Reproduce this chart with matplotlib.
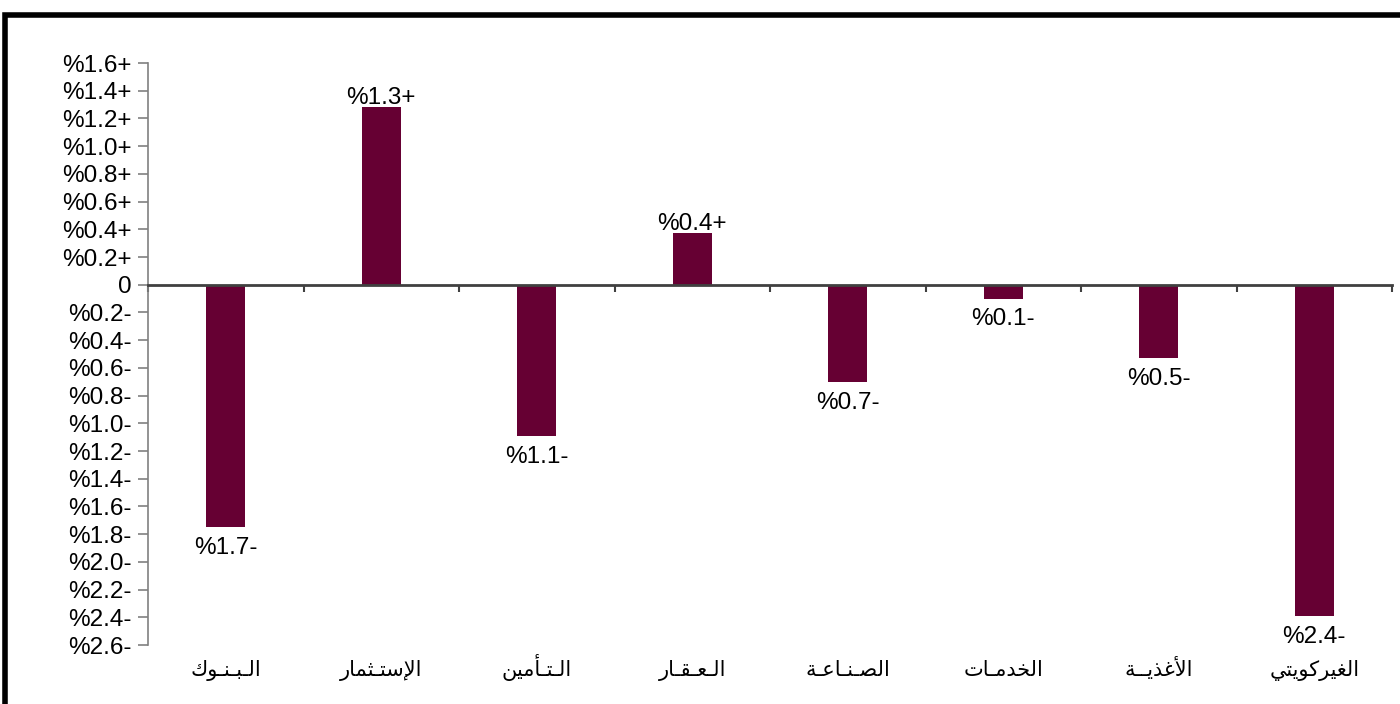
import numpy as np
import matplotlib.pyplot as plt
import matplotlib.transforms as mtransforms
from matplotlib.patches import Rectangle

# --- data -------------------------------------------------------------------
sectors = ["الـبـنـوك", "الإستـثمار", "الـتـأمين", "الـعـقـار",
           "الصـنـاعـة", "الخدمـات", "الأغذيــة", "الغيركويتي"]
changes = [-1.75, 1.28, -1.09, 0.37, -0.70, -0.10, -0.53, -2.39]
bar_labels = ["%1.7-", "%1.3+", "%1.1-", "%0.4+", "%0.7-", "%0.1-", "%0.5-", "%2.4-"]
yticks = np.round(np.arange(-2.6, 1.61, 0.2), 1)

BAR = "#660033"
AXC = "#808080"
FONT = ["Liberation Sans", "DejaVu Sans"]

# --- minimal arabic shaping (matplotlib has no bidi / joining) ---------------
FORMS = {
    "ا": "ﺍﺎ", "أ": "ﺃﺄ", "إ": "ﺇﺈ", "آ": "ﺁﺂ", "ة": "ﺓﺔ", "د": "ﺩﺪ",
    "ذ": "ﺫﺬ", "ر": "ﺭﺮ", "ز": "ﺯﺰ", "و": "ﻭﻮ",
    "ب": "ﺏﺐﺑﺒ", "ت": "ﺕﺖﺗﺘ", "ث": "ﺙﺚﺛﺜ", "خ": "ﺥﺦﺧﺨ", "س": "ﺱﺲﺳﺴ",
    "ص": "ﺹﺺﺻﺼ", "ع": "ﻉﻊﻋﻌ", "غ": "ﻍﻎﻏﻐ", "ق": "ﻕﻖﻗﻘ", "ك": "ﻙﻚﻛﻜ",
    "ل": "ﻝﻞﻟﻠ", "م": "ﻡﻢﻣﻤ", "ن": "ﻥﻦﻧﻨ", "ي": "ﻱﻲﻳﻴ",
    "ـ": "ــــ",
}
LAMALEF = {"ا": "ﻻﻼ", "أ": "ﻷﻸ", "إ": "ﻹﻺ", "آ": "ﻵﻶ"}


def shape(word):
    toks = []
    i = 0
    while i < len(word):
        if word[i] == "ل" and i + 1 < len(word) and word[i + 1] in LAMALEF:
            toks.append(LAMALEF[word[i + 1]])
            i += 2
        else:
            toks.append(FORMS.get(word[i], word[i] * 4))
            i += 1
    out = []
    for k, f in enumerate(toks):
        prev_joins = k > 0 and len(toks[k - 1]) == 4
        next_joins = len(f) == 4 and k + 1 < len(toks)
        if prev_joins and next_joins:
            out.append(f[3])
        elif prev_joins:
            out.append(f[1])
        elif next_joins:
            out.append(f[2])
        else:
            out.append(f[0])
    return "".join(reversed(out))


def tick_text(v):
    if v == 0:
        return "0"
    return f"%{abs(v):.1f}" + ("+" if v > 0 else "-")


# --- figure -----------------------------------------------------------------
fig = plt.figure(figsize=(14, 7.04), dpi=100)
ax = fig.add_axes([148 / 1400, 59 / 704, 1244 / 1400, 582 / 704])

x = np.arange(len(sectors))
ax.bar(x, changes, width=0.25, color=BAR, zorder=2)

ax.set_xlim(-0.5, len(sectors) - 0.5)
ax.set_ylim(-2.6, 1.6)

ax.set_yticks(yticks)
ax.set_yticklabels([tick_text(v) for v in yticks], family=FONT, fontsize=17.5)
ax.tick_params(axis="y", direction="out", length=7, width=1.2, color=AXC, pad=5)

ax.spines["bottom"].set_position(("data", 0))
ax.spines["bottom"].set_color("#404040")
ax.spines["bottom"].set_linewidth(2)
ax.spines["bottom"].set_zorder(3)
ax.set_xticks(np.arange(-0.5, len(sectors), 1.0))
ax.set_xticklabels([])
ax.tick_params(axis="x", direction="out", length=5, width=1.5, color="#404040")
ax.spines["left"].set_color(AXC)
ax.spines["left"].set_linewidth(1.2)
for s in ("top", "right"):
    ax.spines[s].set_visible(False)

# value labels just outside the bar ends
for xi, v, lab in zip(x, changes, bar_labels):
    ax.annotate(lab, (xi, v), xytext=(0, 7 if v > 0 else -15), textcoords="offset points",
                ha="center", va="center",
                family=FONT, fontsize=17.5, color="black")

# category names under the plot area
off = mtransforms.ScaledTranslation(0, -22 / 72, fig.dpi_scale_trans)
for xi, name in zip(x, sectors):
    ax.text(xi, -2.6, shape(name), transform=ax.transData + off,
            ha="center", va="baseline", family=FONT, fontsize=15, color="black")

# frame around the chart
fig.add_artist(Rectangle((5 / 1400, -0.1), 1.2, (704 - 15) / 704 + 0.1,
                         transform=fig.transFigure, fill=False,
                         edgecolor="black", linewidth=4))

fig.savefig("out.png", dpi=100)
